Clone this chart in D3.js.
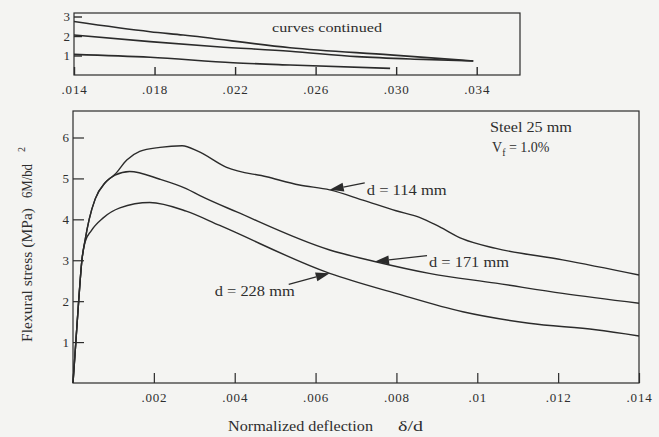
<!DOCTYPE html>
<html>
<head>
<meta charset="utf-8">
<script src="https://cdn.jsdelivr.net/npm/d3@7/dist/d3.min.js"></script>
<style>
  html, body { margin: 0; padding: 0; background: #f4f4f2; }
  svg { display: block; }
  svg text { font-family: "Liberation Serif", "Times New Roman", Tinos, Times, "Noto Serif", "DejaVu Serif", serif !important; fill: #2e2e2e; }
</style>
</head>
<body>
<svg id="chart" width="659" height="437"></svg>
<script>
// Flexural stress vs normalized deflection, steel fibre 25 mm, Vf = 1.0 %
// Main panel: 0 – .014
const defl114 = [0, 0.00007, 0.00014, 0.00022, 0.0003, 0.0004, 0.00055, 0.0008, 0.00104, 0.00133, 0.00165, 0.00215, 0.0027, 0.0031, 0.0038, 0.00479, 0.0056, 0.00635, 0.00717, 0.00799, 0.00857, 0.00906, 0.00964, 0.01046, 0.01211, 0.014];
const stress114 = [0, 1.0, 2.0, 3.0, 3.5, 4.0, 4.5, 4.9, 5.1, 5.45, 5.66, 5.76, 5.8, 5.66, 5.27, 5.04, 4.84, 4.72, 4.47, 4.21, 4.05, 3.82, 3.52, 3.29, 3.01, 2.64];

const defl171 = [0, 0.00007, 0.00014, 0.00022, 0.0003, 0.0004, 0.00055, 0.0008, 0.00104, 0.0014, 0.00215, 0.0028, 0.00314, 0.00405, 0.00635, 0.00746, 0.00881, 0.01046, 0.01211, 0.014];
const stress171 = [0, 1.0, 2.0, 3.0, 3.5, 4.0, 4.5, 4.9, 5.08, 5.17, 4.98, 4.75, 4.58, 4.18, 3.25, 2.97, 2.68, 2.44, 2.19, 1.95];

const defl228 = [0, 0.00007, 0.00014, 0.00022, 0.0003, 0.00045, 0.00074, 0.00116, 0.0019, 0.0028, 0.00363, 0.00635, 0.00799, 0.00964, 0.01128, 0.01293, 0.014];
const stress228 = [0, 1.0, 2.0, 3.0, 3.45, 3.72, 4.03, 4.28, 4.41, 4.2, 3.85, 2.68, 2.19, 1.74, 1.46, 1.3, 1.15];

// Continuation panel: .014 – .034
const contDefl114 = [0.014, 0.01778, 0.01942, 0.02473, 0.0297, 0.03383];
const contStress114 = [2.74, 2.22, 2.05, 1.4, 1.03, 0.72];
const contDefl171 = [0.014, 0.01778, 0.02111, 0.02473, 0.02806, 0.03134, 0.03383];
const contStress171 = [2.05, 1.71, 1.45, 1.22, 0.94, 0.8, 0.72];
const contDefl228 = [0.014, 0.01778, 0.0219, 0.02473, 0.0297];
const contStress228 = [1.06, 0.91, 0.63, 0.51, 0.34];

// Axis ticks
const mainXTicks = [0.002, 0.004, 0.006, 0.008, 0.010, 0.012, 0.014];
const mainXTickLabels = [".002", ".004", ".006", ".008", ".01", ".012", ".014"];
const mainYTicks = [1, 2, 3, 4, 5, 6];
const contXTicks = [0.014, 0.018, 0.022, 0.026, 0.030, 0.034];
const contXTickLabels = [".014", ".018", ".022", ".026", ".030", ".034"];
const contYTicks = [1, 2, 3];

// Curve labels
const seriesNames = ["d = 114 mm", "d = 171 mm", "d = 228 mm"];

const FONT = '"Liberation Serif", "Times New Roman", Tinos, Times, "Noto Serif", "DejaVu Serif", serif';
const svg = d3.select("#chart");
const INK = "#2b2b2b";
svg.append("rect").attr("width", 659).attr("height", 437).attr("fill", "#f4f4f2");

const zip = (xs, ys) => xs.map((v, i) => [v, ys[i]]);

// ---------- main panel ----------
const M = { left: 73, right: 639, top: 111, bottom: 383 };
const x = d3.scaleLinear().domain([0, 0.014]).range([M.left, M.right]);
const y = d3.scaleLinear().domain([0, 6]).range([M.bottom, 137.5]);

const main = svg.append("g");
main.append("rect")
  .attr("x", M.left).attr("y", M.top)
  .attr("width", M.right - M.left).attr("height", M.bottom - M.top)
  .attr("fill", "none").attr("stroke", INK).attr("stroke-width", 1.2);

const xAxis = main.append("g")
  .attr("transform", `translate(0,${M.bottom})`)
  .call(d3.axisBottom(x).tickValues(mainXTicks)
    .tickFormat((d, i) => mainXTickLabels[i]).tickSize(-10).tickPadding(10));
const yAxis = main.append("g")
  .attr("transform", `translate(${M.left},0)`)
  .call(d3.axisLeft(y).tickValues(mainYTicks).tickFormat(d3.format("d"))
    .tickSize(-11).tickPadding(4));
[xAxis, yAxis].forEach(g => {
  g.attr("font-family", FONT);
  g.select(".domain").remove();
  g.selectAll(".tick line").attr("stroke", INK).attr("stroke-width", 1.2);
  g.selectAll(".tick text").style("font-size", "13px").attr("fill", "#333");
});
xAxis.selectAll(".tick text").attr("letter-spacing", "0.8px");

const line = d3.line().x(d => x(d[0])).y(d => y(d[1])).curve(d3.curveMonotoneX);
const mainSeries = [zip(defl114, stress114), zip(defl171, stress171), zip(defl228, stress228)];
main.selectAll("path.curve").data(mainSeries).join("path")
  .attr("class", "curve").attr("d", line)
  .attr("fill", "none").attr("stroke", INK).attr("stroke-width", 1.4);

// labels with arrows pointing at their curve
const interp = (xs, ys, v) => {
  const i = d3.bisectRight(xs, v) - 1;
  const t = (v - xs[i]) / (xs[i + 1] - xs[i]);
  return ys[i] + t * (ys[i + 1] - ys[i]);
};
const callouts = [
  { name: seriesNames[0], xs: defl114, ys: stress114, at: 0.00635, tail: [35, -7], text: [37, 5], anchor: "start", len: 80 },
  { name: seriesNames[1], xs: defl171, ys: stress171, at: 0.00747, tail: [52, -6], text: [54, 5], anchor: "start", len: 80 },
  { name: seriesNames[2], xs: defl228, ys: stress228, at: 0.00635, tail: [-41, 11], text: [-35, 23], anchor: "end", len: 80 }
];
callouts.forEach(c => {
  const tx = x(c.at), ty = y(interp(c.xs, c.ys, c.at));
  const ex = tx + c.tail[0], ey = ty + c.tail[1];
  const ang = Math.atan2(ey - ty, ex - tx);
  const L = 14, W = 4.5;
  const bx = tx + L * Math.cos(ang), by = ty + L * Math.sin(ang);
  main.append("line").attr("x1", bx).attr("y1", by).attr("x2", ex).attr("y2", ey)
    .attr("stroke", INK).attr("stroke-width", 1.3);
  main.append("path")
    .attr("d", `M${tx},${ty}L${bx - W * Math.sin(ang)},${by + W * Math.cos(ang)}L${bx + W * Math.sin(ang)},${by - W * Math.cos(ang)}Z`)
    .attr("fill", INK);
  main.append("text").attr("x", tx + c.text[0]).attr("y", ty + c.text[1])
    .attr("text-anchor", c.anchor).style("font-size", "14px")
    .attr("textLength", c.len).attr("lengthAdjust", "spacingAndGlyphs")
    .text(c.name);
});

// specimen note
main.append("text").attr("x", 490).attr("y", 132).style("font-size", "14px")
  .attr("textLength", 82).attr("lengthAdjust", "spacingAndGlyphs").text("Steel 25 mm");
const vf = main.append("text").attr("x", 492).attr("y", 152).style("font-size", "14px");
vf.append("tspan").text("V");
vf.append("tspan").attr("dy", 4).style("font-size", "10px").text("f");
vf.append("tspan").attr("dy", -4).text(" = 1.0%");

// axis titles
main.append("text").attr("x", 228).attr("y", 431).style("font-size", "15px")
  .attr("textLength", 145).attr("lengthAdjust", "spacingAndGlyphs").text("Normalized deflection");
main.append("text").attr("x", 398).attr("y", 431).style("font-size", "15px")
  .attr("textLength", 25).attr("lengthAdjust", "spacingAndGlyphs").text("δ/d");

const yTitle = main.append("g").attr("transform", "translate(32,0) rotate(-90)");
yTitle.append("text").attr("x", -342).attr("y", 0).style("font-size", "14px")
  .attr("textLength", 134).attr("lengthAdjust", "spacingAndGlyphs").text("Flexural stress (MPa)");
yTitle.append("text").attr("x", -198).attr("y", 0).style("font-size", "14px")
  .attr("textLength", 34).attr("lengthAdjust", "spacingAndGlyphs").text("6M/bd");
yTitle.append("text").attr("x", -152).attr("y", -7).style("font-size", "10px").text("2");

// ---------- continuation panel ----------
const C = { left: 74, right: 520, top: 13, bottom: 75 };
const xc = d3.scaleLinear().domain([0.014, 0.034]).range([C.left, 476.7]);
const yc = d3.scaleLinear().domain([0, 3]).range([C.bottom, 16.5]);

const cont = svg.append("g");
cont.append("rect")
  .attr("x", C.left).attr("y", C.top)
  .attr("width", C.right - C.left).attr("height", C.bottom - C.top)
  .attr("fill", "none").attr("stroke", INK).attr("stroke-width", 1.2);
const cx = cont.append("g").attr("transform", `translate(0,${C.bottom})`)
  .call(d3.axisBottom(xc).tickValues(contXTicks)
    .tickFormat((d, i) => contXTickLabels[i]).tickSize(-8).tickPadding(10));
const cy = cont.append("g").attr("transform", `translate(${C.left},0)`)
  .call(d3.axisLeft(yc).tickValues(contYTicks).tickFormat(d3.format("d"))
    .tickSize(-8).tickPadding(4));
[cx, cy].forEach(g => {
  g.attr("font-family", FONT);
  g.select(".domain").remove();
  g.selectAll(".tick line").attr("stroke", INK).attr("stroke-width", 1.4);
  g.selectAll(".tick text").style("font-size", "13px").attr("fill", "#333");
});
cx.selectAll(".tick text").attr("letter-spacing", "0.8px");

const lineC = d3.line().x(d => xc(d[0])).y(d => yc(d[1])).curve(d3.curveMonotoneX);
const contSeries = [zip(contDefl114, contStress114), zip(contDefl171, contStress171), zip(contDefl228, contStress228)];
cont.selectAll("path.curve").data(contSeries).join("path")
  .attr("class", "curve").attr("d", lineC)
  .attr("fill", "none").attr("stroke", INK).attr("stroke-width", 1.6);

cont.append("text").attr("x", 272).attr("y", 32).style("font-size", "13px")
  .attr("textLength", 110).attr("lengthAdjust", "spacingAndGlyphs").text("curves continued");
</script>
</body>
</html>
